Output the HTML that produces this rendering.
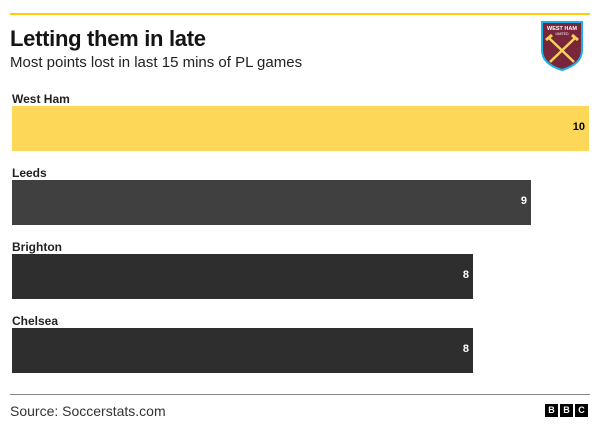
<!DOCTYPE html>
<html><head><meta charset="utf-8"><style>
body{margin:0;width:602px;height:435px;background:#fff;font-family:"Liberation Sans",sans-serif;position:relative;overflow:hidden;color:#141414}
div{position:absolute}
.lab{left:12px;font-size:12px;font-weight:bold;color:#222}
.bar{left:12px;height:45px}
.v{position:absolute;right:4px;top:15px;font-size:11px;font-weight:bold;color:#fff}
.b{display:inline-block;width:13px;height:13px;background:#000;color:#fff;font-size:9px;font-weight:bold;text-align:center;line-height:13px;margin-left:2px}
</style></head><body>
<div style="left:10px;top:13px;width:580px;height:2px;background:#fccf0a"></div>
<div style="left:10px;top:26px;font-size:22px;font-weight:bold;letter-spacing:-0.3px">Letting them in late</div>
<div style="left:10px;top:54px;font-size:15px;color:#222">Most points lost in last 15 mins of PL games</div>
<svg style="position:absolute;left:540px;top:20px" width="44" height="52" viewBox="0 0 44 52">
<path d="M2 2 H42 V30 Q42 44 22 50 Q2 44 2 30 Z" fill="#7a263a" stroke="#1bb1e7" stroke-width="2"/>
<text x="22" y="10" font-size="5.5" font-weight="bold" fill="#fff" text-anchor="middle" font-family="Liberation Sans">WEST HAM</text>
<text x="22" y="15" font-size="3.5" fill="#fff" text-anchor="middle" font-family="Liberation Sans">UNITED</text>
<path d="M9 18 L34 42 M35 18 L10 42" stroke="#f3d459" stroke-width="2.5"/>
<path d="M6 20 L12 15 M38 20 L32 15" stroke="#f3d459" stroke-width="3"/>
</svg>
<div class="lab" style="top:92px">West Ham</div>
<div class="bar" style="top:106px;width:577px;background:#fdd858"><span class="v" style="color:#000">10</span></div>
<div class="lab" style="top:166px">Leeds</div>
<div class="bar" style="top:180px;width:519px;background:#404040"><span class="v">9</span></div>
<div class="lab" style="top:240px">Brighton</div>
<div class="bar" style="top:254px;width:461px;background:#2e2e2e"><span class="v">8</span></div>
<div class="lab" style="top:314px">Chelsea</div>
<div class="bar" style="top:328px;width:461px;background:#2e2e2e"><span class="v">8</span></div>
<div style="left:10px;top:394px;width:580px;height:1px;background:#888"></div>
<div style="left:10px;top:403px;font-size:14px;color:#333">Source: Soccerstats.com</div>
<div style="left:543px;top:404px;line-height:0"><span class="b">B</span><span class="b">B</span><span class="b">C</span></div>
</body></html>
